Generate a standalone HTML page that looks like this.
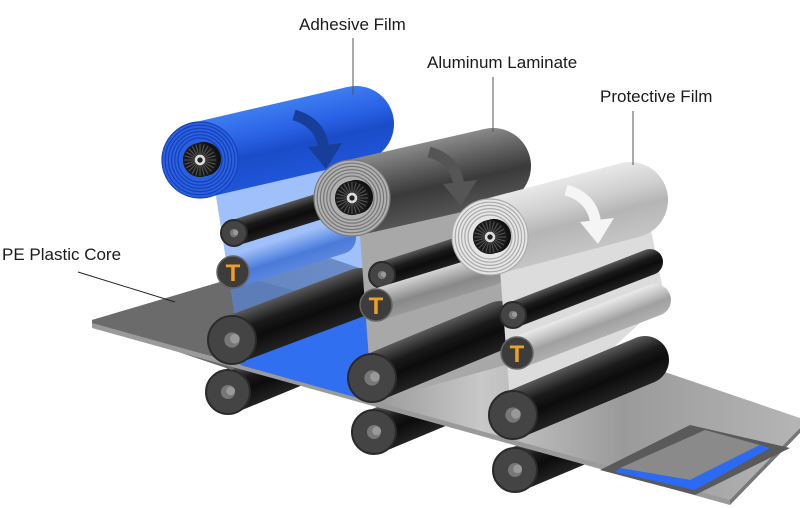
<!DOCTYPE html>
<html><head><meta charset="utf-8">
<style>
html,body{margin:0;padding:0;background:#fff;width:800px;height:508px;overflow:hidden}
svg{display:block}
text{font-family:"Liberation Sans",sans-serif;font-size:17px;fill:#1a1a1a}
</style></head>
<body>
<svg id="s" width="800" height="508" viewBox="0 0 800 508" xmlns="http://www.w3.org/2000/svg">
<defs>
<linearGradient id="sheetg" x1="0" y1="0" x2="1" y2="0">
<stop offset="0" stop-color="#6a6a6a"/><stop offset="0.35" stop-color="#8a8a8a"/><stop offset="0.55" stop-color="#c8c8c8"/><stop offset="0.75" stop-color="#9a9a9a"/><stop offset="1" stop-color="#b5b5b5"/>
</linearGradient>
</defs>
<g id="g"></g>
<text x="299" y="30">Adhesive Film</text>
<line x1="353" y1="38" x2="353" y2="95" stroke="#555" stroke-width="1"/>
<text x="427" y="68">Aluminum Laminate</text>
<line x1="493" y1="77" x2="493" y2="132" stroke="#555" stroke-width="1"/>
<text x="600" y="102">Protective Film</text>
<line x1="633" y1="111" x2="633" y2="165" stroke="#555" stroke-width="1"/>
<text x="2" y="260">PE Plastic Core</text>
<line x1="78" y1="272" x2="175" y2="302" stroke="#222" stroke-width="1"/>
</svg>
<script>
var g=document.getElementById('g'),NS='http://www.w3.org/2000/svg',gid=0;
function el(t,a){var e=document.createElementNS(NS,t);for(var k in a)e.setAttribute(k,a[k]);g.appendChild(e);return e;}
function poly(p,f,extra){var a={points:p.map(function(q){return q.join(',')}).join(' '),fill:f};for(var k in extra)a[k]=extra[k];return el('polygon',a);}
function grad(x1,y1,x2,y2,stops){var d=document.querySelector('defs');var lg=document.createElementNS(NS,'linearGradient');var id='lg'+(gid++);lg.setAttribute('id',id);lg.setAttribute('gradientUnits','userSpaceOnUse');lg.setAttribute('x1',x1);lg.setAttribute('y1',y1);lg.setAttribute('x2',x2);lg.setAttribute('y2',y2);stops.forEach(function(s){var st=document.createElementNS(NS,'stop');st.setAttribute('offset',s[0]);st.setAttribute('stop-color',s[1]);lg.appendChild(st);});d.appendChild(lg);return 'url(#'+id+')';}
function cyl(C,F,r,cols,capFill){
 var dx=F[0]-C[0],dy=F[1]-C[1],L=Math.hypot(dx,dy);var nx=-dy/L,ny=dx/L;
 if(ny<0){nx=-nx;ny=-ny;}
 var gf=grad(C[0]-nx*r,C[1]-ny*r,C[0]+nx*r,C[1]+ny*r,[[0,cols[0]],[0.35,cols[1]],[0.6,cols[2]],[1,cols[3]]]);
 el('circle',{cx:F[0],cy:F[1],r:r,fill:gf});
 poly([[C[0]-nx*r,C[1]-ny*r],[F[0]-nx*r,F[1]-ny*r],[F[0]+nx*r,F[1]+ny*r],[C[0]+nx*r,C[1]+ny*r]],gf);
 el('circle',{cx:C[0],cy:C[1],r:r,fill:capFill||'#3a3a3a'});
}
function roller(C,F,r){
 cyl(C,F,r,['#5a5a5a','#1a1a1a','#0c0c0c','#222']);
 el('circle',{cx:C[0],cy:C[1],r:r,fill:'#444',stroke:'#2a2a2a','stroke-width':2});
 el('circle',{cx:C[0],cy:C[1],r:r*0.32,fill:'#777'});
 el('circle',{cx:C[0]+r*0.12,cy:C[1]-r*0.05,r:r*0.2,fill:'#999'});
}
function troller(C,F,r,cols){
 cyl(C,F,r,cols);
 el('circle',{cx:C[0],cy:C[1],r:r,fill:'#3c3c3c',stroke:'#666','stroke-width':1.5});
 var t=el('text',{x:C[0],y:C[1]+r*0.55,'text-anchor':'middle',style:'font-size:'+(r*1.5)+'px;font-weight:bold;fill:#f0a020'});t.textContent='T';
}
function roll(C,F,r,cols,ring,ringDark){
 cyl(C,F,r,cols,ring);
 for(var i=0;i<6;i++){el('circle',{cx:C[0],cy:C[1],r:r-i*3.2,fill:'none',stroke:ringDark,'stroke-width':1.2});}
 el('circle',{cx:C[0]+4,cy:C[1]-1,r:r*0.45,fill:'#111'});
 el('circle',{cx:C[0],cy:C[1],r:r*0.45,fill:'#1a1a1a'});
 for(var a=0;a<24;a++){var an=a*Math.PI/12;el('line',{x1:C[0]+Math.cos(an)*r*0.15,y1:C[1]+Math.sin(an)*r*0.15,x2:C[0]+Math.cos(an)*r*0.42,y2:C[1]+Math.sin(an)*r*0.42,stroke:'#555','stroke-width':1});}
 el('circle',{cx:C[0],cy:C[1],r:r*0.14,fill:'#ddd'});
 el('circle',{cx:C[0],cy:C[1],r:r*0.07,fill:'#222'});
}
function arrow(x,y,col){
 el('path',{d:'M'+(x-26)+','+(y-40)+' Q'+(x+2)+','+(y-32)+' '+(x+4)+','+(y-4),fill:'none',stroke:col,'stroke-width':11});
 poly([[x-12,y-8],[x+22,y-12],[x+6,y+14]],col);
}
roller([228,392],[330,350],22);
roller([374,432],[470,392],22);
roller([515,470],[610,430],22);
poly([[92,320],[330,258],[800,418],[800,428],[730,502],[92,325]],'url(#sheetg)');
poly([[92,320],[240,276],[330,300],[232,370],[92,323]],'#6b6b6b');
poly([[92,323],[730,500],[730,505],[92,328]],'#9a9a9a');
poly([[730,500],[800,428],[800,433],[730,505]],'#777');
poly([[240,365],[300,310],[420,300],[365,400]],'#2f6ff0');
poly([[600,470],[690,425],[790,448],[695,495]],'#5a5a5a');
poly([[620,468],[705,430],[760,445],[690,480]],'#8a8a8a');
poly([[620,468],[690,480],[760,445],[770,448],[695,490],[615,472]],'#2a6af5');
poly([[215,190],[370,150],[420,300],[240,350]],'rgba(80,140,245,0.55)');
roll([200,160],[356,124],38,['#3d7df0','#2a62e6','#1a4cc8','#1f55d8'],'#2a60e0','#1640b8');
arrow(320,155,'#173f99');
roller([234,233],[340,200],13);
troller([233,272],[340,238],16,['#9fbdf5','#6b97ea','#4a7ad8','#5a86de']);
roller([232,340],[360,292],24);
poly([[360,235],[510,195],[560,350],[372,402]],'#a8a8a8');
roll([352,198],[493,166],38,['#8a8a8a','#5a5a5a','#3a3a3a','#555'],'#b0b0b0','#777');
arrow(455,192,'#555');
roller([382,275],[490,240],13);
troller([376,305],[490,270],16,['#d5d5d5','#a8a8a8','#888','#999']);
roller([372,378],[500,325],24);
poly([[500,270],[650,225],[665,300],[513,440]],'#dcdcdc');
roll([490,237],[630,200],38,['#e8e8e8','#cfcfcf','#b5b5b5','#c5c5c5'],'#e5e5e5','#aaa');
arrow(592,230,'#f5f5f5');
roller([513,315],[650,262],13);
troller([517,353],[655,300],16,['#eaeaea','#c2c2c2','#a0a0a0','#b0b0b0']);
roller([513,415],[645,360],24);
</script>
</body></html>
